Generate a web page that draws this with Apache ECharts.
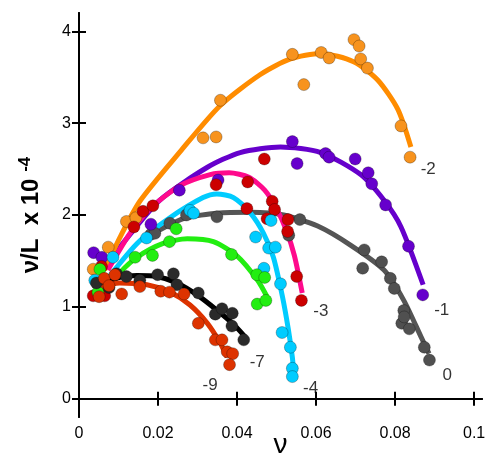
<!DOCTYPE html>
<html>
<head>
<meta charset="utf-8">
<script src="https://cdn.jsdelivr.net/npm/echarts@6/dist/echarts.min.js"></script>
<style>
html, body { margin: 0; padding: 0; background: #fff; }
#chart { width: 486px; height: 464px; }
</style>
</head>
<body>
<div id="chart"></div>
<script>
// tick values
var xTicks = [0, 0.02, 0.04, 0.06, 0.08, 0.1];
var yTicks = [0, 1, 2, 3, 4];

// measured points and fitted curves, one pair per series  [nu, nu/L]
var ptsM2 = [[0.0036,1.41],[0.0074,1.65],[0.0120,1.93],[0.0144,1.97],[0.0314,2.84],[0.0347,2.85],[0.0358,3.25],[0.0540,3.75],[0.0569,3.42],[0.0613,3.77],[0.0633,3.71],[0.0696,3.91],[0.0709,3.84],[0.0713,3.70],[0.0730,3.60],[0.0815,2.97],[0.0838,2.63]];
var fitM2 = [[0.0065,1.40],[0.0104,1.76],[0.0154,2.15],[0.0256,2.69],[0.0357,3.19],[0.0459,3.53],[0.0535,3.70],[0.0612,3.76],[0.0695,3.67],[0.0756,3.47],[0.0807,3.15],[0.0840,2.74]];

var ptsM1 = [[0.0037,1.59],[0.0058,1.54],[0.0182,1.90],[0.0254,2.27],[0.0352,2.38],[0.0540,2.80],[0.0552,2.56],[0.0624,2.67],[0.0633,2.63],[0.0699,2.61],[0.0732,2.46],[0.0741,2.34],[0.0776,2.11],[0.0834,1.66],[0.0870,1.13]];
var fitM1 = [[0.0060,1.40],[0.0120,1.74],[0.0204,2.16],[0.0325,2.52],[0.0408,2.68],[0.0510,2.74],[0.0612,2.68],[0.0713,2.44],[0.0772,2.16],[0.0815,1.87],[0.0871,1.24]];

var pts0 = [[0.0182,1.79],[0.0192,1.80],[0.0230,1.91],[0.0272,2.00],[0.0349,1.98],[0.0531,1.78],[0.0559,1.95],[0.0722,1.62],[0.0718,1.42],[0.0766,1.49],[0.0788,1.31],[0.0798,1.20],[0.0822,0.96],[0.0817,0.82],[0.0823,0.89],[0.0836,0.76],[0.0874,0.56],[0.0887,0.42]];
var fit0 = [[0.0172,1.76],[0.0264,1.96],[0.0350,2.02],[0.0434,2.03],[0.0518,2.00],[0.0604,1.88],[0.0688,1.67],[0.0772,1.40],[0.0822,1.07],[0.0866,0.67],[0.0886,0.49]];

var ptsM3 = [[0.0036,1.12],[0.0065,1.12],[0.0057,1.44],[0.0139,1.87],[0.0162,2.04],[0.0187,2.10],[0.0347,2.33],[0.0427,2.36],[0.0469,2.61],[0.0425,2.07],[0.0476,1.96],[0.0489,2.15],[0.0495,2.06],[0.0529,1.95],[0.0528,1.82],[0.0551,1.33],[0.0563,1.07]];
var fitM3 = [[0.0073,1.40],[0.0129,1.80],[0.0180,2.07],[0.0256,2.32],[0.0332,2.44],[0.0380,2.46],[0.0430,2.41],[0.0470,2.27],[0.0500,2.07],[0.0525,1.83],[0.0545,1.56],[0.0565,1.15]];

var ptsM4 = [[0.0040,1.29],[0.0086,1.54],[0.0171,1.75],[0.0281,2.05],[0.0290,2.02],[0.0486,1.94],[0.0447,1.76],[0.0480,1.64],[0.0497,1.65],[0.0468,1.42],[0.0510,1.25],[0.0514,0.72],[0.0535,0.56],[0.0540,0.33],[0.0540,0.24]];
var fitM4 = [[0.0053,1.20],[0.0147,1.69],[0.0230,1.97],[0.0314,2.19],[0.0349,2.23],[0.0391,2.19],[0.0434,2.02],[0.0467,1.80],[0.0492,1.54],[0.0515,1.11],[0.0530,0.75],[0.0540,0.45],[0.0543,0.31]];

var ptsG = [[0.0053,1.41],[0.0048,1.16],[0.0142,1.54],[0.0186,1.56],[0.0229,1.71],[0.0246,1.85],[0.0386,1.57],[0.0450,1.35],[0.0470,1.32],[0.0451,1.03],[0.0473,1.07]];
var fitG = [[0.0053,1.11],[0.0103,1.37],[0.0147,1.54],[0.0213,1.69],[0.0274,1.74],[0.0340,1.71],[0.0401,1.55],[0.0452,1.29],[0.0476,1.11]];

var ptsM7 = [[0.0044,1.26],[0.0076,1.21],[0.0095,1.36],[0.0120,1.33],[0.0154,1.29],[0.0199,1.35],[0.0239,1.36],[0.0248,1.24],[0.0302,1.15],[0.0345,0.92],[0.0362,0.98],[0.0388,0.93],[0.0387,0.79],[0.0417,0.64]];
var fitM7 = [[0.0045,1.21],[0.0103,1.32],[0.0147,1.34],[0.0197,1.33],[0.0248,1.26],[0.0299,1.13],[0.0350,0.96],[0.0391,0.81],[0.0421,0.67]];

var ptsM9 = [[0.0051,1.11],[0.0064,1.31],[0.0076,1.23],[0.0091,1.35],[0.0108,1.14],[0.0154,1.22],[0.0207,1.17],[0.0229,1.16],[0.0266,1.14],[0.0302,0.82],[0.0345,0.64],[0.0362,0.64],[0.0375,0.51],[0.0389,0.49],[0.0381,0.37]];
var fitM9 = [[0.0053,1.21],[0.0103,1.26],[0.0172,1.24],[0.0231,1.16],[0.0281,1.02],[0.0325,0.82],[0.0358,0.60],[0.0375,0.45]];

// curve labels
var curveNames = ['-2', '-1', '0', '-3', '-4', '-7', '-9'];
var curveLabelPos = [[0.0884,2.50],[0.0918,0.96],[0.0932,0.25],[0.0612,0.95],[0.0586,0.11],[0.0451,0.40],[0.0332,0.15]];

var sets = [
    {pts: pts0,  fit: fit0,  line: '#555555', dot: '#505050'},
    {pts: ptsM1, fit: fitM1, line: '#6600CC', dot: '#6600CC'},
    {pts: ptsM2, fit: fitM2, line: '#FF8C00', dot: '#F7931E'},
    {pts: ptsM3, fit: fitM3, line: '#FF0A8C', dot: '#CC0000'},
    {pts: ptsM4, fit: fitM4, line: '#00CCFF', dot: '#00CCFF'},
    {pts: ptsG,  fit: fitG,  line: '#22EE11', dot: '#22EE11'},
    {pts: ptsM7, fit: fitM7, line: '#000000', dot: '#2A2A2A'},
    {pts: ptsM9, fit: fitM9, line: '#DD3300', dot: '#DD3300'}
];

var series = [];
sets.forEach(function (s) {
    series.push({
        type: 'line',
        data: s.fit,
        smooth: 0.25,
        showSymbol: false,
        silent: true,
        lineStyle: { color: s.line, width: 5 },
        z: 2
    });
});
sets.forEach(function (s) {
    series.push({
        type: 'scatter',
        data: s.pts,
        symbolSize: 12,
        itemStyle: { color: s.dot, borderColor: 'rgba(0,0,0,0.45)', borderWidth: 0.6, opacity: 1 },
        z: 3
    });
});
series.push({
    type: 'scatter',
    symbolSize: 1,
    itemStyle: { color: 'transparent' },
    label: {
        show: true,
        position: 'inside',
        formatter: '{b}',
        color: '#000',
        fontSize: 17,
        fontFamily: 'Liberation Sans, Arial, sans-serif'
    },
    data: curveNames.map(function (n, i) { return { name: n, value: curveLabelPos[i] }; }),
    z: 4
});

var chart = echarts.init(document.getElementById('chart'));
var axisLineStyle = { color: '#000', width: 2 };
var font = 'Liberation Sans, Arial, sans-serif';
var option = {
    animation: false,
    backgroundColor: '#fff',
    grid: { left: 79, right: 4, top: 13, bottom: 47, outerBoundsMode: 'none', containLabel: false },
    xAxis: [{
        type: 'value',
        min: 0,
        max: 0.102,
        name: 'ν',
        nameLocation: 'middle',
        nameGap: 14,
        nameMoveOverlap: false,
        nameTextStyle: { fontSize: 28, color: '#000', fontFamily: font },
        axisLine: { lineStyle: axisLineStyle },
        axisTick: { inside: true, length: 7, lineStyle: axisLineStyle, customValues: xTicks },
        axisLabel: { fontSize: 16, color: '#000', margin: 9, fontFamily: font, customValues: xTicks },
        splitLine: { show: false }
    }, {
        type: 'value',
        position: 'top',
        min: 0,
        max: 0.102,
        axisLine: { lineStyle: axisLineStyle },
        axisTick: { inside: true, length: 7, lineStyle: axisLineStyle, customValues: xTicks },
        axisLabel: { show: false },
        splitLine: { show: false }
    }],
    yAxis: [{
        type: 'value',
        min: -0.2,
        max: 4.2,
        name: '{a|ν/L  x 10 }{s|-4}',
        nameLocation: 'middle',
        nameRotate: 90,
        nameGap: 34,
        nameMoveOverlap: false,
        nameTextStyle: {
            rich: {
                a: { fontSize: 24, fontWeight: 'bold', color: '#000', fontFamily: font, lineHeight: 28 },
                s: { fontSize: 17, fontWeight: 'bold', color: '#000', fontFamily: font, verticalAlign: 'top', lineHeight: 28 }
            }
        },
        axisLine: { lineStyle: axisLineStyle },
        axisTick: { inside: true, length: 7, lineStyle: axisLineStyle, customValues: yTicks },
        axisLabel: { fontSize: 16, color: '#000', margin: 8, fontFamily: font, customValues: yTicks },
        splitLine: { show: false }
    }, {
        type: 'value',
        position: 'right',
        min: -0.2,
        max: 4.2,
        axisLine: { show: true, lineStyle: axisLineStyle },
        axisTick: { inside: true, length: 7, lineStyle: axisLineStyle, customValues: yTicks },
        axisLabel: { show: false },
        splitLine: { show: false }
    }],
    series: series
};
chart.setOption(option);
</script>
</body>
</html>
